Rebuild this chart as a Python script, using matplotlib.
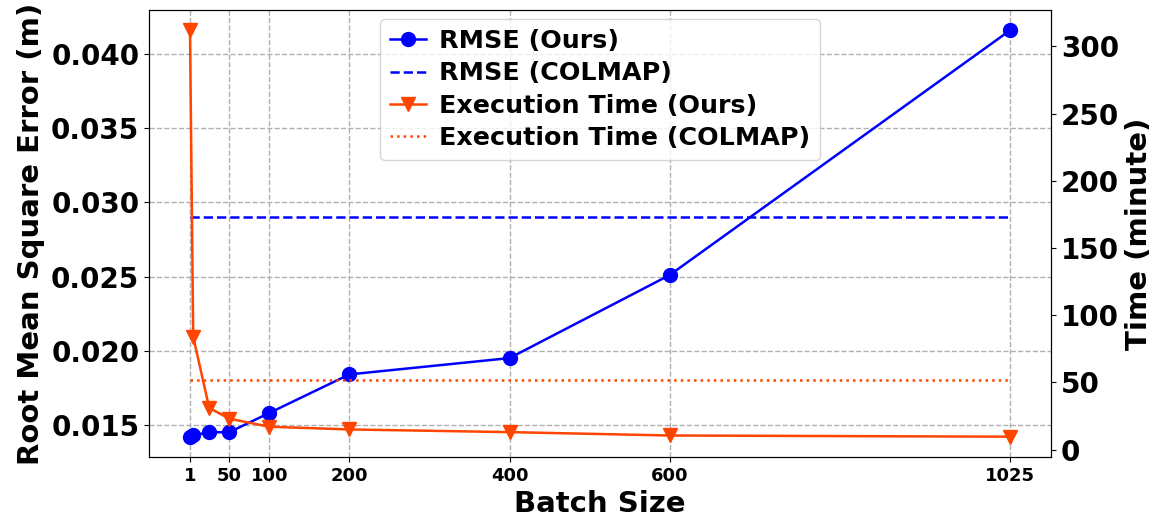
import matplotlib
matplotlib.use("Agg")
import matplotlib.pyplot as plt

batch_sizes = [1, 5, 25, 50, 100, 200, 400, 600, 1025]
rmse_ours = [0.0142, 0.0143, 0.0145, 0.0145, 0.0158, 0.0184, 0.0195, 0.0251, 0.0416]
rmse_colmap = 0.029
time_ours = [312, 84, 31, 23, 17, 15, 13, 10.5, 9.6]
time_colmap = 52
xtick_values = [1, 50, 100, 200, 400, 600, 1025]

blue = "#0000FF"
orange = "#FF4500"

fig = plt.figure(figsize=(11.64, 5.25), dpi=100)
ax = fig.add_axes([0.128, 0.1295, 0.775, 0.8515])
ax2 = ax.twinx()

l1, = ax.plot(batch_sizes, rmse_ours, color=blue, marker="o", markersize=10,
              linewidth=1.8, label="RMSE (Ours)")
l2, = ax.plot([batch_sizes[0], batch_sizes[-1]], [rmse_colmap, rmse_colmap],
              color=blue, linestyle="--", linewidth=1.8, label="RMSE (COLMAP)")
l3, = ax2.plot(batch_sizes, time_ours, color=orange, marker="v", markersize=10,
               linewidth=1.8, label="Execution Time (Ours)")
l4, = ax2.plot([batch_sizes[0], batch_sizes[-1]], [time_colmap, time_colmap],
               color=orange, linestyle=":", linewidth=1.8,
               label="Execution Time (COLMAP)")

ax.set_xticks(xtick_values)
ax.set_xticklabels([str(v) for v in xtick_values], fontsize=13, fontweight="bold")
for lab in ax.get_yticklabels():
    lab.set_fontsize(20)
    lab.set_fontweight("bold")
for lab in ax2.get_yticklabels():
    lab.set_fontsize(20)
    lab.set_fontweight("bold")

ax.set_xlabel("Batch Size", fontsize=21, fontweight="bold", labelpad=4)
ax.set_ylabel("Root Mean Square Error (m)", fontsize=21, fontweight="bold")
ax2.set_ylabel("Time (minute)", fontsize=21, fontweight="bold")

ax.grid(True, linestyle="--", color="#b0b0b0", linewidth=1.0)
ax.set_axisbelow(True)

ax2.legend(handles=[l1, l2, l3, l4], loc="upper center",
           prop={"size": 18.3, "weight": "bold"}, handlelength=1.4,
           handletextpad=0.5, labelspacing=0.33, borderaxespad=0.35)

fig.savefig("out.png", dpi=100)
